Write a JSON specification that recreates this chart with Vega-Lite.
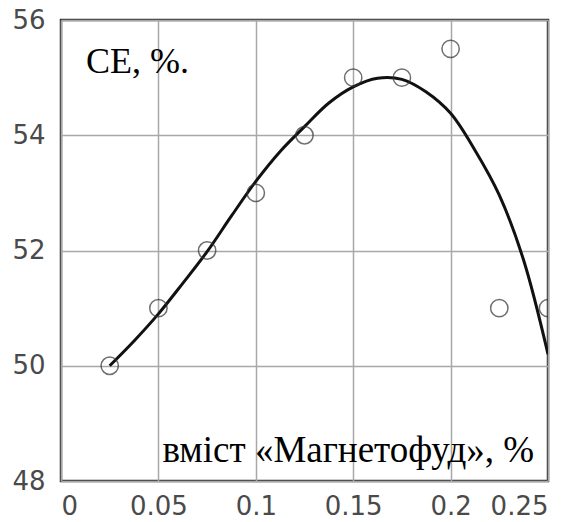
{
  "$schema": "https://vega.github.io/schema/vega-lite/v6.json",
  "autosize": {"type": "none"},
  "padding": {"left": 61, "top": 20, "right": 36, "bottom": 41},
  "width": 487,
  "height": 461,
  "background": "white",
  "config": {
    "view": {"stroke": "#333333", "strokeWidth": 2.5},
    "axis": {
      "domain": false,
      "ticks": false,
      "tickSize": 0,
      "grid": true,
      "gridColor": "#a8a8a8",
      "gridWidth": 1.5,
      "labelFont": "DejaVu Sans",
      "labelFontSize": 26,
      "labelColor": "#4a4a4a",
      "title": null
    }
  },
  "datasets": {
    "points": [
      {"x": 0.025, "y": 50.0},
      {"x": 0.05, "y": 51.0},
      {"x": 0.075, "y": 52.0},
      {"x": 0.1, "y": 53.0},
      {"x": 0.125, "y": 54.0},
      {"x": 0.15, "y": 55.0},
      {"x": 0.175, "y": 55.0},
      {"x": 0.2, "y": 55.5},
      {"x": 0.225, "y": 51.0},
      {"x": 0.25, "y": 51.0}
    ],
    "curve": [
      {"x": 0.025, "y": 50.0},
      {"x": 0.0375, "y": 50.43},
      {"x": 0.05, "y": 50.9},
      {"x": 0.0625, "y": 51.43},
      {"x": 0.075, "y": 51.98},
      {"x": 0.0875, "y": 52.6},
      {"x": 0.1, "y": 53.2},
      {"x": 0.1125, "y": 53.72},
      {"x": 0.125, "y": 54.15},
      {"x": 0.1375, "y": 54.56},
      {"x": 0.15, "y": 54.84},
      {"x": 0.1625, "y": 54.99},
      {"x": 0.175, "y": 54.97},
      {"x": 0.1875, "y": 54.75},
      {"x": 0.2, "y": 54.38},
      {"x": 0.2125, "y": 53.74},
      {"x": 0.225, "y": 52.96},
      {"x": 0.2375, "y": 51.83},
      {"x": 0.25, "y": 50.2}
    ],
    "labels": [
      {"x": 0.0128, "y": 55.085, "label": "CE, %.", "pos": "top"},
      {"x": 0.1475, "y": 48.335, "label": "вміст «Магнетофуд», %", "pos": "bottom"}
    ]
  },
  "layer": [
    {
      "data": {"name": "curve"},
      "mark": {"type": "line", "color": "#111111", "strokeWidth": 3, "interpolate": "catmull-rom", "clip": true},
      "encoding": {
        "x": {"field": "x", "type": "quantitative", "scale": {"domain": [0, 0.25], "nice": false, "zero": false},
              "axis": {"values": [0, 0.05, 0.1, 0.15, 0.2, 0.25], "labelPadding": 12, "labelExpr": "datum.value == 0 ? '0' : format(datum.value, '.2~f')"}},
        "y": {"field": "y", "type": "quantitative", "scale": {"domain": [48, 56], "nice": false, "zero": false},
              "axis": {"values": [48, 50, 52, 54, 56], "format": "d", "labelPadding": 16}}
      }
    },
    {
      "data": {"name": "points"},
      "mark": {"type": "point", "shape": "circle", "filled": false, "size": 300, "stroke": "#333333", "strokeWidth": 1.5, "clip": true},
      "encoding": {
        "x": {"field": "x", "type": "quantitative"},
        "y": {"field": "y", "type": "quantitative"}
      }
    },
    {
      "data": {"name": "labels"},
      "transform": [{"filter": "datum.pos == 'top'"}],
      "mark": {"type": "text", "font": "Liberation Serif", "fontSize": 36, "align": "left", "baseline": "alphabetic", "color": "#000000"},
      "encoding": {
        "x": {"field": "x", "type": "quantitative"},
        "y": {"field": "y", "type": "quantitative"},
        "text": {"field": "label"}
      }
    },
    {
      "data": {"name": "labels"},
      "transform": [{"filter": "datum.pos == 'bottom'"}],
      "mark": {"type": "text", "font": "Liberation Serif", "fontSize": 37, "align": "center", "baseline": "alphabetic", "color": "#000000"},
      "encoding": {
        "x": {"field": "x", "type": "quantitative"},
        "y": {"field": "y", "type": "quantitative"},
        "text": {"field": "label"}
      }
    }
  ]
}
